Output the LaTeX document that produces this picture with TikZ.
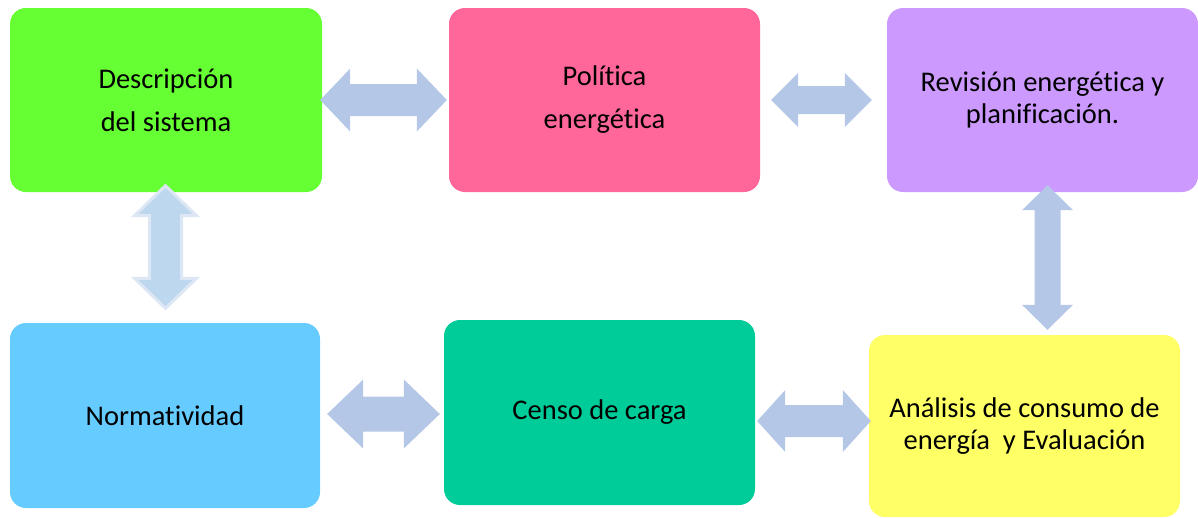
\documentclass[tikz,border=0pt]{standalone}
\usepackage{fontspec}
\setmainfont[Ligatures={NoCommon}]{Carlito}
\usetikzlibrary{calc}
\definecolor{cgreen}{HTML}{66FF33}
\definecolor{cpink}{HTML}{FF6699}
\definecolor{cpurple}{HTML}{CC99FF}
\definecolor{cblue}{HTML}{66CCFF}
\definecolor{cteal}{HTML}{00CC99}
\definecolor{cyellow}{HTML}{FFFF66}
\definecolor{arrowblue}{HTML}{B4C7E7}
\definecolor{arrowlight}{HTML}{BDD7EE}
\definecolor{arrowglow}{HTML}{DCE6F4}
\tikzset{
  box/.style={rounded corners=16pt, inner sep=0pt, align=center,
    minimum width=311pt, minimum height=184pt},
  wide/.style={font=\fontsize{28.5}{43}\selectfont},
  tight/.style={font=\fontsize{28.5}{32}\selectfont},
  blockarrow/.style={fill=arrowblue},
}
% horizontal double arrow: #1 style, #2 left tip, #3 right tip, #4 shaft half, #5 head half, #6 head length
\newcommand\hdbl[6]{%
  \path[#1] let \p1=#2, \p2=#3 in
    (\x1,\y1) -- (\x1+#6,\y1+#5) -- (\x1+#6,\y1+#4) -- (\x2-#6,\y1+#4)
    -- (\x2-#6,\y1+#5) -- (\x2,\y1) -- (\x2-#6,\y1-#5) -- (\x2-#6,\y1-#4)
    -- (\x1+#6,\y1-#4) -- (\x1+#6,\y1-#5) -- cycle;}
% vertical double arrow: #1 style, #2 top tip, #3 bottom tip, #4 shaft half, #5 head half, #6 head length
\newcommand\vdbl[6]{%
  \path[#1] let \p1=#2, \p2=#3 in
    (\x1,\y1) -- (\x1+#5,\y1-#6) -- (\x1+#4,\y1-#6) -- (\x1+#4,\y2+#6)
    -- (\x1+#5,\y2+#6) -- (\x1,\y2) -- (\x1-#5,\y2+#6) -- (\x1-#4,\y2+#6)
    -- (\x1-#4,\y1-#6) -- (\x1-#5,\y1-#6) -- cycle;}
\begin{document}
\begin{tikzpicture}[x=1pt,y=-1pt]
\useasboundingbox (0,0) rectangle (1198,517);
\node[box, wide, fill=cgreen, minimum width=312pt] (desc) at (166,100) {Descripción\\del sistema};
\node[box, wide, fill=cpink] (pol) at (604.5,100) {Política\\energética};
\node[box, tight, fill=cpurple] (rev) at (1042.5,100) {Revisión energética y\\planificación.};
\node[box, tight, fill=cblue, minimum width=310pt, minimum height=185pt] (norm) at (165,415.5) {Normatividad};
\node[box, tight, fill=cteal, minimum height=185pt] (censo) at (599.5,412.5) {Censo de carga};
\node[box, tight, fill=cyellow, minimum height=182pt] (anal) at (1024.5,426) {Análisis de consumo de\\energía\ \ y Evaluación};

\hdbl{blockarrow}{($(desc.east)+(-2,0)$)}{($(pol.west)+(-2,0)$)}{16pt}{31.5pt}{30pt}
\hdbl{blockarrow}{($(pol.east)+(11,0)$)}{($(rev.west)+(-15,0)$)}{14pt}{27pt}{27pt}
\vdbl{fill=arrowlight, draw=arrowglow, line width=3pt}{($(desc.south)+(-0.5,-6.5)$)}{($(norm.north)+(0.5,-14.5)$)}{16pt}{31pt}{30pt}
\vdbl{blockarrow}{($(rev.south)+(5,-7)$)}{($(anal.north)+(23,-5)$)}{13pt}{25.5pt}{25pt}
\hdbl{blockarrow}{($(norm.east)+(7,-1.5)$)}{($(censo.west)+(-4,1.5)$)}{17.5pt}{34.5pt}{36pt}
\hdbl{blockarrow}{($(censo.east)+(2,8.5)$)}{($(anal.west)+(2,-5)$)}{16pt}{31pt}{28pt}
\end{tikzpicture}
\end{document}
